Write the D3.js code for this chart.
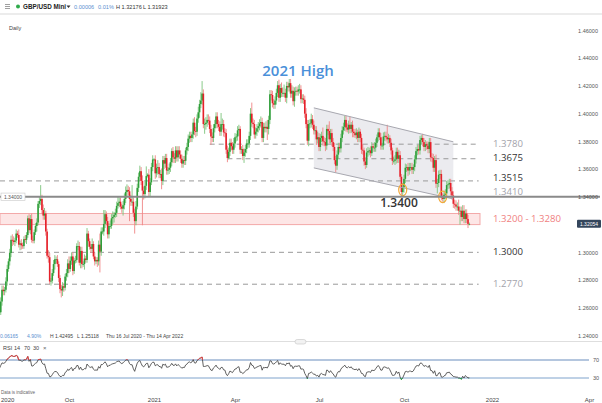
<!DOCTYPE html>
<html><head><meta charset="utf-8">
<script src="https://cdn.jsdelivr.net/npm/d3@7"></script>
<style>body{margin:0;background:#fff}svg{display:block;font-family:"Liberation Sans",Arial,sans-serif}</style>
</head><body>
<svg id="c" width="602" height="403"></svg>
<script>
// ---------------- DATA ----------------
const firstDate = "2020-06-15";      // first daily candle (warm-up days sit left of the view)
const firstVisible = "2020-07-16";
const lastAxisDate = "2022-04-14";
const firstOpen = 1.2500;
// daily closes, in pips (1.2540 -> 12540); open = previous close
const closePips = [
 12540,12570,12545,12410,12345,12475,12495,12440,12420,12335,12330,12400, // Jun 20
 12475,12475,12485,12475,12545,12610,12600,12615,12545,12565,12580,12565,12568,12645,12730,12720,12730,12790,12880,12935,12995,13090,13085, // Jul 20
 13075,13085,13135,13125,13055,13065,13050,13045,13095,13090,13125,13245,13160,13240,13090,13085,13145,13190,13215,13350,13370, // Aug 20
 13385,13305,13265,13280,13150,12975,12965,12790,12795,12850,12915,12950,12950,12915,12815,12735,12725,12755,12745,12825,12850,12920, // Sep 20
 12880,12940,12970,12865,12940,12945,13045,13045,12925,13010,12915,12915,12955,12945,13135,13080,13040,13025,13060,12970,12935,12945, // Oct 20
 12935,13055,13005,13150,13150,13205,13275,13225,13130,13190,13190,13245,13255,13270,13285,13335,13355,13365,13330,13315,13340, // Nov 20
 13385,13435,13450,13440,13385,13365,13365,13285,13225,13330,13465,13545,13585,13515,13445,13420,13480,13550,13560,13435,13505,13615,13670, // Dec 20
 13670,13570,13610,13615,13565,13565,13515,13665,13640,13680,13590,13595,13610,13650,13730,13685,13675,13735,13685,13735,13705, // Jan 21
 13675,13640,13665,13660,13735,13760,13820,13840,13825,13850,13935,13875,13870,13965,14010,14070,14095,14145,13925,13925, // Feb 21
 13935,13955,13950,13890,13835,13825,13895,13925,13980,13925,13905,13870,13925,13925,13865,13860,13740,13680,13725,13790,13765,13740,13785, // Mar 21
 13830,13835,13880,13890,13740,13745,13695,13720,13745,13785,13785,13840,14000,13935,13925,13850,13870,13895,13910,13930,13940,13825, // Apr 21
 13905,13895,13905,13890,13955,14140,14135,14075,14065,14095,14150,14205,14115,14185,14150,14150,14150,14115,14200,14190,14220, // May 21
 14145,14165,14090,14160,14165,14160,14175,14175,14105,14110,14100,14000,13925,13805,13925,13930,13960,13920,13880,13880,13815,13830, // Jun 21
 13760,13825,13840,13800,13795,13770,13890,13875,13815,13860,13795,13760,13665,13625,13705,13760,13750,13825,13880,13905,13955,13900, // Jul 21
 13885,13920,13890,13920,13870,13860,13845,13865,13825,13870,13825,13740,13735,13655,13630,13720,13730,13735,13715,13765,13755,13755, // Aug 21
 13790,13830,13865,13830,13770,13770,13835,13840,13830,13815,13825,13790,13735,13660,13660,13670,13725,13675,13700,13545,13435,13470, // Sep 21
 13530,13610,13615,13590,13615,13615,13595,13615,13670,13730,13745,13735,13810,13825,13795,13760,13780,13770,13745,13795,13685, // Oct 21
 13680,13610,13665,13495,13500,13560,13565,13395,13385,13415,13425,13485,13490,13500,13440,13410,13350,13345,13330,13330,13300,13300, // Nov 21
 13255,13300,13240,13280,13240,13205,13205 // Dec 21
];
// upper wick above the body, in units of 0.001
const wickUp = [
 4,3,3,2,2,2,4,2,3,2,3,2,
 3,2,3,2,3,3,3,2,3,2,2,3,3,3,3,3,2,3,3,2,3,3,4,
 3,2,3,2,4,2,3,2,2,3,2,2,3,3,4,3,2,2,3,2,3,
 10,3,4,4,2,2,4,3,2,3,3,3,2,3,2,2,3,3,2,2,3,3,
 5,3,3,3,2,3,2,4,3,3,3,2,3,2,4,2,2,2,4,2,3,2,
 2,3,8,3,3,10,3,2,3,2,4,3,4,2,3,3,5,3,3,2,3,
 4,4,4,3,3,3,12,3,3,4,3,3,4,3,4,3,3,7,1,4,3,3,3,
 1,3,3,5,3,3,4,3,3,3,3,2,3,3,2,3,3,3,3,3,3,
 3,3,3,3,2,3,3,3,3,2,3,4,3,3,4,3,6,9,3,4,
 4,4,4,3,3,3,3,3,3,3,3,4,8,4,3,3,3,3,3,3,3,3,4,
 3,2,3,3,2,2,3,3,3,3,3,3,4,8,3,3,3,3,3,3,4,3,
 3,3,4,5,3,3,3,3,3,3,3,3,4,3,4,4,6,3,3,3,3,
 3,4,3,3,3,3,3,4,3,3,3,3,4,3,3,3,4,3,3,3,3,4,
 3,3,3,6,3,3,3,3,7,3,3,3,3,3,3,3,3,3,3,3,3,3,
 3,3,6,2,3,2,3,3,2,3,2,3,4,2,3,3,3,2,3,3,2,4,
 3,2,3,3,3,2,3,3,3,9,3,2,3,2,3,3,3,3,4,3,2,3,
 3,3,2,3,3,3,3,2,3,3,3,3,3,2,3,3,3,2,3,3,3,
 3,3,3,4,3,3,3,3,3,3,3,3,3,3,3,3,3,3,3,3,5,3,
 3,4,4,3,3,3,1
];
// lower wick below the body, in units of 0.001
const wickDown = [
 5,4,3,2,3,2,3,3,2,2,2,3,
 3,2,3,3,2,3,3,2,3,2,3,3,3,2,3,3,3,2,3,2,3,3,4,
 2,3,2,2,2,4,3,2,2,2,3,2,2,3,2,2,2,2,4,2,3,
 3,3,3,3,3,2,4,2,3,2,2,4,3,2,3,3,5,4,3,2,3,3,
 3,2,3,3,2,2,2,3,2,4,3,2,4,2,2,4,2,3,2,2,3,2,
 4,3,15,3,2,3,3,3,3,3,2,2,4,4,2,3,2,3,2,3,5,
 3,3,3,3,16,3,3,3,9,3,2,3,3,3,25,4,3,3,1,3,3,2,3,
 1,4,3,5,3,3,6,3,4,3,3,3,3,3,3,4,3,3,3,3,3,
 3,3,3,3,3,3,3,3,3,3,3,3,4,3,3,4,3,3,3,7,
 4,3,3,3,6,3,3,3,3,3,3,3,3,4,3,3,3,3,1,3,3,3,3,
 3,3,3,4,3,3,3,5,3,3,3,3,3,3,3,3,3,3,3,3,3,3,
 3,3,3,8,4,3,4,3,3,3,3,3,3,3,3,3,3,3,4,3,3,
 3,3,3,4,3,3,3,3,3,3,3,3,3,3,4,3,3,3,3,3,4,3,
 3,3,3,3,3,4,3,3,3,3,3,3,3,5,3,3,3,3,3,3,3,3,
 2,3,3,3,4,3,2,3,3,3,3,3,3,3,3,2,3,3,3,2,3,3,
 3,3,3,2,3,3,3,3,3,3,3,3,3,3,2,3,3,3,3,2,2,3,
 4,3,3,4,3,3,3,3,3,3,3,3,3,3,3,3,3,3,3,3,3,
 3,3,3,3,7,3,3,2,2,3,3,3,3,3,3,3,3,3,3,3,3,10,
 3,3,3,3,3,3,1
];
const lastPrice = 1.32054;
const tickDates  = ["2020-10-01","2021-01-01","2021-04-01","2021-07-01","2021-10-01","2022-01-03","2022-04-01"];
const tickLabels = ["Oct","2021","Apr","Jul","Oct","2022","Apr"];
const priceTicks = [1.24,1.26,1.28,1.30,1.34,1.36,1.38,1.40,1.42,1.44,1.46];
const rsiTicks = [30,70];
const levelPrices = [1.3780,1.3675,1.3515,1.3000,1.2770];
const levelStarts = ["2021-03-04","2021-03-24","2020-07-16","2020-07-16","2020-07-16"];
const levelEnd = "2021-12-20";
const keyLevel = 1.3400;
const zoneLow = 1.3200, zoneHigh = 1.3280, zoneEnd = "2021-12-21";
const noteLevel = 1.3410;
const channelDates = ["2021-06-25","2021-11-23"];
const channelTop = [1.4042,1.3797];
const channelBottom = [1.3609,1.3385];
const touchDates = ["2021-09-30","2021-11-11"];
const touchPrices = [1.3450,1.3400];

// ---------------- SCALES ----------------
const svg = d3.select("#c");
const parse = d3.utcParse("%Y-%m-%d"), fmtKey = d3.utcFormat("%Y-%m-%d");
const days = d3.utcDay.range(parse(firstDate), d3.utcDay.offset(parse(lastAxisDate),1))
  .filter(d => d.getUTCDay() % 6 !== 0);
const idxMap = new Map(days.map((d,i)=>[fmtKey(d), i]));
const idx = s => idxMap.get(s);

const x = d3.scaleLinear().domain(tickDates.map(idx)).range([69,154,235,319,404,492,589]);
const y = d3.scaleLinear().domain([1.24,1.46]).range([335.5,30.5]);
const yr = d3.scaleLinear().domain([0,100]).range([391.5,346.5]);

const candles = closePips.map((c,i)=>{
  const close = c/1e4, open = i ? closePips[i-1]/1e4 : firstOpen;
  const hi = Math.max(open,close) + (wickUp[i] ?? 2)/1e3;
  const lo = Math.min(open,close) - (wickDown[i] ?? 2)/1e3;
  return {i, open, close, hi, lo, up: close >= open};
});

// RSI 14 (Wilder) from closes
function rsi(cl, n){
  const out = cl.map(()=>null); let g=0,l=0;
  for(let i=1;i<=n;i++){const d=cl[i]-cl[i-1]; if(d>0) g+=d; else l-=d;}
  g/=n; l/=n; out[n]=100-100/(1+g/l);
  for(let i=n+1;i<cl.length;i++){const d=cl[i]-cl[i-1];
    g=(g*(n-1)+Math.max(d,0))/n; l=(l*(n-1)+Math.max(-d,0))/n;
    out[i]= l===0?100:100-100/(1+g/l);}
  return out;
}
const rsiVals = rsi(candles.map(d=>d.close),14);

// ---------------- DEFS ----------------
const defs = svg.append("defs");
defs.append("clipPath").attr("id","pc").append("rect").attr("x",0).attr("y",14).attr("width",576).attr("height",327);
defs.append("clipPath").attr("id","rc").append("rect").attr("x",0).attr("y",343).attr("width",590).attr("height",50);
defs.append("clipPath").attr("id","rHi").append("rect").attr("x",0).attr("y",340).attr("width",590).attr("height",yr(70)-340);
defs.append("clipPath").attr("id","rLo").append("rect").attr("x",0).attr("y",yr(30)).attr("width",590).attr("height",20);

// ---------------- HEADER ----------------
svg.append("rect").attr("x",0).attr("y",13).attr("width",602).attr("height",2).attr("fill","#ececec");
[4.5,6.5,8.5].forEach(v=>svg.append("line").attr("x1",5).attr("x2",10).attr("y1",v).attr("y2",v).attr("stroke","#888").attr("stroke-width",0.8));
svg.append("circle").attr("cx",18).attr("cy",6.5).attr("r",2).attr("fill","#2eaa4a");
svg.append("text").attr("x",23).attr("y",9).attr("font-size",6.3).attr("font-weight","bold").attr("fill","#222").text("GBP/USD Mini");
svg.append("path").attr("d","M66.5,5.5 L70.5,5.5 L68.5,8 Z").attr("fill","#333");
const hdr = svg.append("g").attr("font-size",5.6);
hdr.append("text").attr("x",74).attr("y",8.8).attr("fill","#5a8fd0").text("0.00006");
hdr.append("text").attr("x",98).attr("y",8.8).attr("fill","#5a8fd0").text("0.01%");
hdr.append("text").attr("x",116).attr("y",8.8).attr("fill","#333").text("H 1.32176");
hdr.append("text").attr("x",143).attr("y",8.8).attr("fill","#333").text("L 1.31923");
svg.append("text").attr("x",9).attr("y",30).attr("font-size",5.5).attr("fill","#444").text("Daily");

// ---------------- PRICE PANEL ----------------
const pg = svg.append("g").attr("clip-path","url(#pc)");

// channel fill
const cx0 = x(idx(channelDates[0])), cx1 = x(idx(channelDates[1]));
pg.append("path").attr("d",`M${cx0},${y(channelTop[0])}L${cx1},${y(channelTop[1])}L${cx1},${y(channelBottom[1])}L${cx0},${y(channelBottom[0])}Z`)
  .attr("fill","#ebebef");

// pink zone
pg.append("rect").attr("x",0).attr("width",x(idx(zoneEnd))).attr("y",y(zoneHigh)).attr("height",y(zoneLow)-y(zoneHigh))
  .attr("fill","#fde6e6").attr("stroke","#f3a9a9").attr("stroke-width",1);

// dashed levels
levelPrices.forEach((p,k)=>{
  const xs = k>=2 ? 0 : x(idx(levelStarts[k]));
  pg.append("line").attr("x1",xs).attr("x2",x(idx(levelEnd))).attr("y1",y(p)).attr("y2",y(p))
    .attr("stroke","#9a9a9a").attr("stroke-width",1).attr("stroke-dasharray","5,4");
});

// candles
const cg = pg.append("g");
cg.selectAll("line.w").data(candles).join("line")
  .attr("x1",d=>x(d.i)).attr("x2",d=>x(d.i)).attr("y1",d=>y(d.hi)).attr("y2",d=>y(d.lo))
  .attr("stroke",d=>d.up?"#7cc47c":"#ef8585").attr("stroke-width",0.9);
cg.selectAll("rect.b").data(candles).join("rect")
  .attr("x",d=>x(d.i)-0.8).attr("width",1.6)
  .attr("y",d=>y(Math.max(d.open,d.close)))
  .attr("height",d=>Math.max(0.8,Math.abs(y(d.open)-y(d.close))))
  .attr("fill",d=>d.up?"#2f9e3a":"#e5202a");

// channel lines
pg.append("line").attr("x1",cx0).attr("y1",y(channelTop[0])).attr("x2",cx1).attr("y2",y(channelTop[1])).attr("stroke","#a8a8b0").attr("stroke-width",1);
pg.append("line").attr("x1",cx0).attr("y1",y(channelBottom[0])).attr("x2",cx1).attr("y2",y(channelBottom[1])).attr("stroke","#a8a8b0").attr("stroke-width",1);

// key level 1.34
svg.append("line").attr("x1",0).attr("x2",600).attr("y1",y(keyLevel)).attr("y2",y(keyLevel)).attr("stroke","#8a8a8a").attr("stroke-width",2);
svg.append("rect").attr("x",1).attr("y",y(keyLevel)-3.8).attr("width",24).attr("height",7.5).attr("fill","#fff").attr("stroke","#c8c8c8").attr("stroke-width",0.6);
svg.append("text").attr("x",13).attr("y",y(keyLevel)+1.9).attr("text-anchor","middle").attr("font-size",5).attr("fill","#555").text("1.34000");

// touch circles
touchDates.forEach((d,k)=>{
  pg.append("ellipse").attr("cx",x(idx(d))).attr("cy",y(touchPrices[k])).attr("rx",4).attr("ry",5.8)
    .attr("fill","none").attr("stroke","#f2a93b").attr("stroke-width",1.2);
});

// annotations
const ann = svg.append("g").attr("font-family","'Open Sans',sans-serif");
ann.append("text").attr("x",298).attr("y",76).attr("text-anchor","middle").attr("font-size",15).attr("font-weight",600).attr("fill","#4a90d9").text("2021 High");
ann.append("text").attr("x",399).attr("y",y(keyLevel)+10.5).attr("text-anchor","middle").attr("font-size",12).attr("font-weight",600).attr("fill","#333").text(d3.format(".4f")(keyLevel));
const muted = new Set([1.3780,1.2770]);
const labelShift = new Map([[1.3515,-2.5]]);
levelPrices.forEach(p=>{
  ann.append("text").attr("x",493).attr("y",y(p)-1+(labelShift.get(p)||0)).attr("dy","0.35em").attr("font-size",9.6)
    .attr("fill",muted.has(p)?"#a3a3ab":"#333").text(d3.format(".4f")(p));
});
ann.append("text").attr("x",493).attr("y",y(noteLevel)-4.3).attr("dy","0.35em").attr("font-size",9.6).attr("fill","#a3a3ab").text(d3.format(".4f")(noteLevel));
ann.append("text").attr("x",493).attr("y",y((zoneLow+zoneHigh)/2)).attr("dy","0.35em").attr("font-size",9.6).attr("fill","#f07f7f")
  .text(d3.format(".4f")(zoneLow)+" - "+d3.format(".4f")(zoneHigh));

// right price axis
const ra = svg.append("g").attr("transform","translate(598,0)")
  .call(d3.axisRight(y).tickValues(priceTicks).tickFormat(d3.format(".5f")).tickSize(0).tickPadding(0));
ra.select(".domain").remove();
ra.selectAll("text").attr("text-anchor","end").attr("x",0).attr("font-size",5.5).attr("fill","#555").attr("font-family","'Liberation Sans',Arial,sans-serif");
svg.append("rect").attr("x",577).attr("y",y(lastPrice)-4).attr("width",24).attr("height",8).attr("fill","#34465c").attr("rx",1);
svg.append("text").attr("x",589).attr("y",y(lastPrice)+2).attr("text-anchor","middle").attr("font-size",5).attr("fill","#fff").text(d3.format(".5f")(lastPrice));

// info row
const info = svg.append("g").attr("font-size",5).attr("fill","#444");
info.append("text").attr("x",0).attr("y",338).attr("fill","#5a8fd0").text("0.06165");
info.append("text").attr("x",27).attr("y",338).attr("fill","#5a8fd0").text("4.90%");
info.append("text").attr("x",50).attr("y",338).text("H 1.42495");
info.append("text").attr("x",77).attr("y",338).text("L 1.25118");
info.append("text").attr("x",106).attr("y",338).text("Thu 16 Jul 2020 - Thu 14 Apr 2022");

// separator
svg.append("line").attr("x1",0).attr("x2",602).attr("y1",341.5).attr("y2",341.5).attr("stroke","#dedede").attr("stroke-width",1);
svg.append("rect").attr("x",295).attr("y",339.5).attr("width",11).attr("height",4.5).attr("rx",2.2).attr("fill","#f2f2f2").attr("stroke","#c4c4c4").attr("stroke-width",0.6);

// ---------------- RSI PANEL ----------------
const rsiHead = svg.append("g").attr("font-size",5.5).attr("fill","#444");
rsiHead.append("text").attr("x",3).attr("y",350).text("RSI");
rsiHead.append("text").attr("x",14).attr("y",350).text("14");
rsiHead.append("text").attr("x",24).attr("y",350).text("70");
rsiHead.append("text").attr("x",33).attr("y",350).text("30");
rsiHead.append("text").attr("x",43).attr("y",350).attr("font-size",6).attr("fill","#666").text("×");

svg.append("line").attr("x1",0).attr("x2",589).attr("y1",yr(70)).attr("y2",yr(70)).attr("stroke","#b4c6de").attr("stroke-width",1.8);
svg.append("line").attr("x1",0).attr("x2",589).attr("y1",yr(30)).attr("y2",yr(30)).attr("stroke","#7ea3cc").attr("stroke-width",1);

const rsiPts = rsiVals.map((r,i)=>({i,r}));
const rl = d3.line().defined(d=>d.r!==null).x(d=>x(d.i)).y(d=>yr(d.r));
const rg = svg.append("g").attr("clip-path","url(#rc)");
rg.append("path").attr("d",rl(rsiPts)).attr("fill","none").attr("stroke","#3a3a3a").attr("stroke-width",0.8);
rg.append("g").attr("clip-path","url(#rHi)").append("path").attr("d",rl(rsiPts)).attr("fill","none").attr("stroke","#f03a3a").attr("stroke-width",0.9);
rg.append("g").attr("clip-path","url(#rLo)").append("path").attr("d",rl(rsiPts)).attr("fill","none").attr("stroke","#22a84a").attr("stroke-width",0.9);

const rAx = svg.append("g").attr("transform","translate(599,0)")
  .call(d3.axisRight(yr).tickValues(rsiTicks).tickSize(0).tickPadding(0));
rAx.select(".domain").remove();
rAx.selectAll("text").attr("text-anchor","end").attr("x",0).attr("font-size",5.5).attr("fill","#555").attr("font-family","'Liberation Sans',Arial,sans-serif");

svg.append("text").attr("x",1).attr("y",394).attr("font-size",4.5).attr("fill","#666").text("Data is indicative");

// ---------------- X AXIS ----------------
const xa = svg.append("g").attr("transform","translate(0,397.5)")
  .call(d3.axisBottom(x).tickValues(tickDates.map(idx)).tickFormat((d,k)=>tickLabels[k]).tickSize(0).tickPadding(0));
xa.select(".domain").remove();
xa.selectAll("text").attr("font-size",6).attr("fill","#444").attr("font-family","'Liberation Sans',Arial,sans-serif");
svg.append("text").attr("x",1).attr("y",401.8).attr("font-size",6).attr("fill","#444").text("2020");
</script>
</body></html>
